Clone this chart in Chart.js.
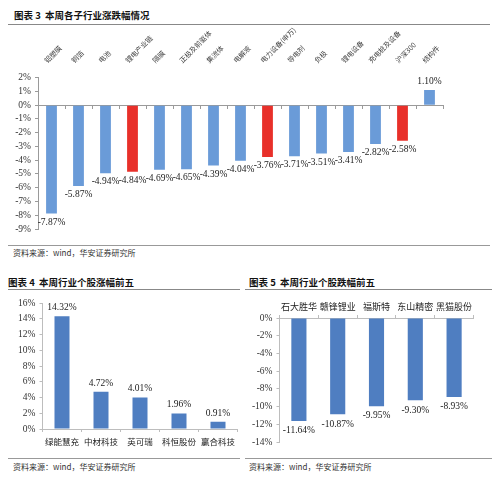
<!DOCTYPE html>
<html><head><meta charset="utf-8">
<script src="https://cdn.jsdelivr.net/npm/chart.js@4"></script>
<style>
html,body{margin:0;padding:0;background:#fff;}
body{width:500px;height:477px;position:relative;overflow:hidden;font-family:"Noto Sans CJK SC",sans-serif;}
.t{position:absolute;font-size:9.5px;font-weight:bold;color:#111;white-space:nowrap;line-height:12px;}
.s{position:absolute;font-size:8px;color:#333;white-space:nowrap;line-height:10px;}
.l{position:absolute;height:1px;background:#888;}
canvas{position:absolute;}
</style></head><body>
<div class="t" style="left:14px;top:9px;">图表 3&nbsp;&nbsp;本周各子行业涨跌幅情况</div>
<div class="l" style="left:8px;top:24px;width:482px;"></div>
<canvas id="c1" width="500" height="219" style="left:0;top:26px;"></canvas>
<div class="l" style="left:8px;top:245px;width:482px;background:#999;"></div>
<div class="s" style="left:13px;top:248px;">资料来源：wind，华安证券研究所</div>

<div class="t" style="left:8px;top:276px;">图表 4&nbsp;&nbsp;本周行业个股涨幅前五</div>
<div class="l" style="left:8px;top:289px;width:232px;"></div>
<canvas id="c4" width="245" height="167" style="left:0;top:290px;"></canvas>
<div class="l" style="left:8px;top:458px;width:232px;background:#999;"></div>
<div class="s" style="left:13px;top:462px;">资料来源：wind，华安证券研究所</div>

<div class="t" style="left:249px;top:276px;">图表 5&nbsp;&nbsp;本周行业个股跌幅前五</div>
<div class="l" style="left:245px;top:289px;width:247px;"></div>
<canvas id="c5" width="255" height="167" style="left:245px;top:290px;"></canvas>
<div class="l" style="left:245px;top:458px;width:247px;background:#999;"></div>
<div class="s" style="left:249px;top:462px;">资料来源：wind，华安证券研究所</div>

<script>
// ---- data ----
const cats1 = ['铝塑膜','铜箔','电池','锂电产业链','隔膜','正极及前驱体','集流体','电解液','电力设备(申万)','导电剂','负极','锂电设备','充电桩及设备','沪深300','结构件'];
const vals1 = [-7.87,-5.87,-4.94,-4.84,-4.69,-4.65,-4.39,-4.04,-3.76,-3.71,-3.51,-3.41,-2.82,-2.58,1.10];
const highlight1 = ['锂电产业链','电力设备(申万)','沪深300'];
const ticks1 = {min:-9, max:2, step:1};

const cats4 = ['绿能慧充','中材科技','英可瑞','科恒股份','赢合科技'];
const vals4 = [14.32,4.72,4.01,1.96,0.91];
const ticks4 = {min:0, max:16, step:2};

const cats5 = ['石大胜华','赣锋锂业','福斯特','东山精密','黑猫股份'];
const vals5 = [-11.64,-10.87,-9.95,-9.30,-8.93];
const ticks5 = {min:-14, max:0, step:2};

const BLUE1 = '#6A9BD8', RED = '#E8302A', BLUE2 = '#4F7EC1';
const SERIF = '"Liberation Serif","Times New Roman",serif';
const CJK = '"Noto Sans CJK SC",sans-serif';

const valueLabels = {
  id: 'valueLabels',
  afterDatasetsDraw(chart, args, opts) {
    const ctx = chart.ctx;
    ctx.save();
    ctx.font = opts.font;
    ctx.fillStyle = opts.color;
    ctx.textAlign = 'center';
    chart.data.datasets.forEach((ds, i) => {
      chart.getDatasetMeta(i).data.forEach((el, j) => {
        const v = ds.data[j];
        const txt = v.toFixed(2) + '%';
        if (v >= 0) { ctx.textBaseline = 'bottom'; ctx.fillText(txt, el.x, el.y - opts.offset); }
        else { ctx.textBaseline = 'top'; ctx.fillText(txt, el.x, el.y + opts.offset); }
      });
    });
    ctx.restore();
  }
};

function yAxis(t, width, color) {
  return {
    min: t.min, max: t.max,
    ticks: {stepSize: t.step, autoSkip: false, callback: v => v + '%', color: '#333', padding: 4,
            font: {family: SERIF, size: 9.5}},
    grid: {drawOnChartArea: false, tickLength: 3, color: color},
    border: {color: color},
    afterFit: s => { s.width = width; }
  };
}

// ---- chart 3 ----
new Chart(document.getElementById('c1'), {
  type: 'bar',
  data: {labels: cats1, datasets: [{data: vals1,
    backgroundColor: cats1.map(c => highlight1.includes(c) ? RED : BLUE1),
    categoryPercentage: 1, barPercentage: 0.4}]},
  plugins: [valueLabels],
  options: {
    responsive: false, animation: false, devicePixelRatio: 1,
    layout: {padding: {left: 0, right: 57, top: 0, bottom: 16}},
    plugins: {legend: {display: false}, tooltip: {enabled: false},
      valueLabels: {font: '9.5px ' + SERIF, color: '#222', offset: 4}},
    scales: {
      x: {position: 'top', offset: true,
          ticks: {minRotation: 45, maxRotation: 45, autoSkip: false, padding: 5,
                  color: '#444', font: {family: CJK, size: 7}},
          grid: {display: false}, border: {display: false},
          afterFit: s => { s.height = 51.7; }},
      x2: {type: 'category', position: {y: 0}, offset: true,
           ticks: {display: false},
           grid: {drawOnChartArea: false, tickLength: 3, offset: true, color: '#9A9A9A'},
           border: {color: '#9A9A9A'}},
      y: yAxis(ticks1, 38, '#9A9A9A')
    }
  }
});

// ---- chart 4 ----
new Chart(document.getElementById('c4'), {
  type: 'bar',
  data: {labels: cats4, datasets: [{data: vals4, backgroundColor: BLUE2,
    categoryPercentage: 1, barPercentage: 0.385}]},
  plugins: [valueLabels],
  options: {
    responsive: false, animation: false, devicePixelRatio: 1,
    layout: {padding: {left: 0, right: 7.5, top: 13, bottom: 0}},
    plugins: {legend: {display: false}, tooltip: {enabled: false},
      valueLabels: {font: '9.5px ' + SERIF, color: '#222', offset: 4}},
    scales: {
      x: {position: 'bottom', offset: true,
          ticks: {color: '#222', padding: 5, font: {family: CJK, size: 8.5}, autoSkip: false, maxRotation: 0},
          grid: {drawOnChartArea: false, tickLength: 3, offset: true, color: '#BDBDBD'},
          border: {color: '#BDBDBD'},
          afterFit: s => { s.height = 28; }},
      y: yAxis(ticks4, 42.5, '#BDBDBD')
    }
  }
});

// ---- chart 5 ----
new Chart(document.getElementById('c5'), {
  type: 'bar',
  data: {labels: cats5, datasets: [{data: vals5, backgroundColor: BLUE2,
    categoryPercentage: 1, barPercentage: 0.39}]},
  plugins: [valueLabels],
  options: {
    responsive: false, animation: false, devicePixelRatio: 1,
    layout: {padding: {left: 0, right: 26.5, top: 0, bottom: 15}},
    plugins: {legend: {display: false}, tooltip: {enabled: false},
      valueLabels: {font: '9.5px ' + SERIF, color: '#222', offset: 5}},
    scales: {
      x: {position: 'top', offset: true,
          ticks: {color: '#222', padding: 3, font: {family: CJK, size: 9}, autoSkip: false, maxRotation: 0},
          grid: {drawOnChartArea: false, tickLength: 3, offset: true, color: '#BDBDBD'},
          border: {color: '#BDBDBD'},
          afterFit: s => { s.height = 28; }},
      y: yAxis(ticks5, 34.5, '#BDBDBD')
    }
  }
});
</script>
</body></html>
